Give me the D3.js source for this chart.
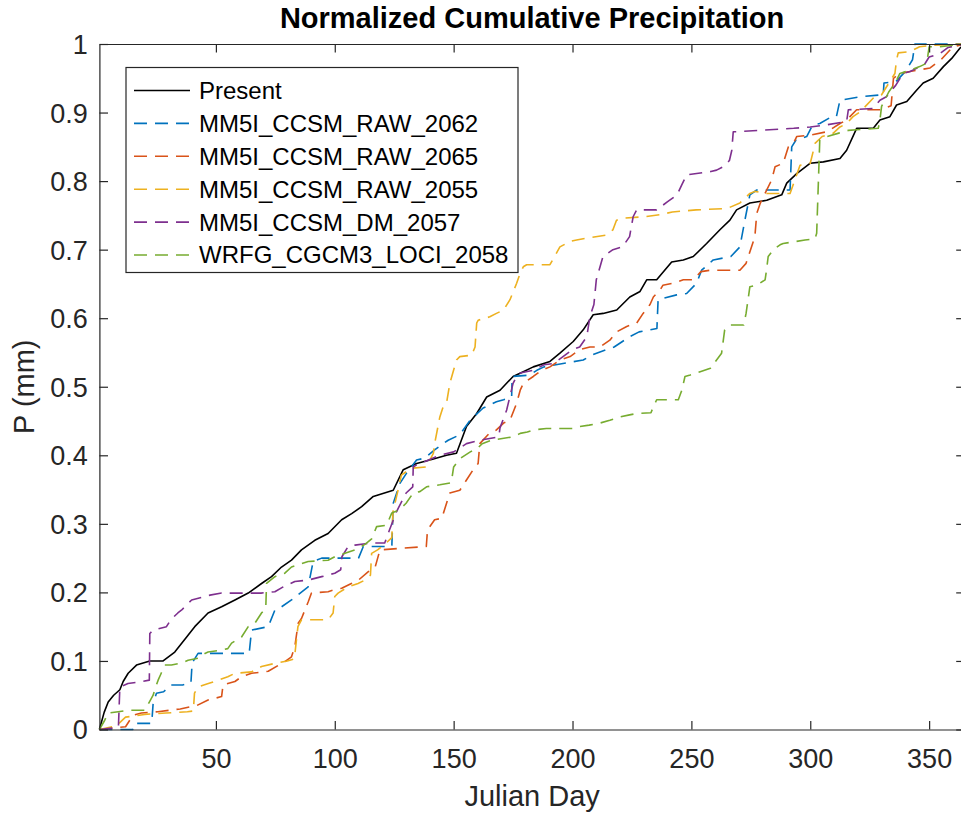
<!DOCTYPE html>
<html>
<head>
<meta charset="utf-8">
<script src="https://cdn.jsdelivr.net/npm/d3@7"></script>
<style>
  body { margin: 0; background: #fff; }
  svg { display: block; font-family: "Liberation Sans", Arial, Helvetica, sans-serif; }
</style>
</head>
<body>
<div id="my_chart"></div>
<script>
// [day, normalized cumulative precipitation]
var present = [[1,0],[3,0.025],[4.7,0.04],[7,0.05],[9.6,0.058],[11,0.07],[13.1,0.082],[16.6,0.094],[22.2,0.1],[27.8,0.1],[32.7,0.113],[37.7,0.135],[41.1,0.15],[46.7,0.17],[52.4,0.179],[58,0.189],[63.6,0.199],[69.2,0.213],[73.4,0.223],[77.6,0.237],[81.8,0.247],[86,0.262],[91.6,0.276],[97.2,0.286],[102.9,0.306],[107.1,0.315],[111.3,0.325],[116.2,0.34],[124.6,0.349],[128.8,0.379],[134.4,0.388],[140,0.393],[147,0.4],[151.2,0.403],[155.4,0.442],[159.7,0.461],[163.9,0.485],[169.5,0.495],[175,0.515],[179.3,0.522],[183.5,0.529],[190.5,0.537],[194.7,0.549],[200.3,0.566],[204.5,0.583],[208.7,0.605],[212.9,0.607],[218.6,0.612],[224.1,0.631],[228.4,0.639],[231.2,0.656],[235.4,0.656],[241.7,0.682],[246.6,0.685],[250.8,0.69],[256.4,0.709],[262,0.729],[266.2,0.743],[269,0.758],[274.6,0.768],[281.7,0.772],[288,0.78],[290.1,0.797],[294.3,0.811],[299.9,0.826],[305.5,0.828],[312.5,0.833],[315.3,0.845],[319.5,0.877],[326.5,0.877],[329.3,0.889],[333.5,0.894],[336.3,0.911],[340.6,0.916],[344.8,0.933],[347.5,0.943],[351.7,0.95],[356,0.967],[359.5,0.979],[363,0.994],[365,1]];

var raw2062 = [[1,0],[15,0],[16,0.009],[23,0.009],[23.6,0.038],[25,0.053],[28,0.055],[31,0.065],[36,0.065],[39.5,0.068],[40,0.097],[42.5,0.111],[64,0.111],[65,0.145],[72,0.15],[74.8,0.174],[77.6,0.179],[81.8,0.189],[88.8,0.208],[90.9,0.245],[94.5,0.25],[110,0.25],[112,0.267],[124,0.267],[124.6,0.33],[127.4,0.359],[130.2,0.374],[134.4,0.393],[137.9,0.396],[142,0.408],[145.6,0.417],[147.7,0.422],[152.6,0.43],[156.9,0.451],[162.4,0.469],[168,0.478],[171,0.481],[174.4,0.485],[174.6,0.515],[182,0.517],[185,0.524],[188,0.529],[196,0.534],[204.5,0.539],[208,0.546],[214,0.554],[217.5,0.558],[221,0.566],[224,0.573],[228,0.58],[235.5,0.585],[236,0.627],[243.8,0.634],[248,0.636],[252.2,0.651],[254.3,0.67],[259.2,0.685],[266.6,0.69],[270.4,0.704],[272.5,0.743],[274.6,0.78],[277.5,0.787],[291.5,0.787],[292.2,0.85],[294,0.86],[298.5,0.865],[301,0.882],[304,0.884],[308,0.892],[311,0.894],[312.5,0.918],[320.9,0.923],[330.7,0.926],[331,0.943],[336,0.945],[340,0.96],[343,0.977],[344,1],[365,1]];

var raw2065 = [[1,0],[12,0.004],[15.2,0.021],[18.7,0.024],[25.6,0.026],[35,0.03],[42,0.035],[46.7,0.043],[52.4,0.048],[53,0.065],[58,0.07],[60.8,0.077],[65,0.082],[72,0.085],[79,0.099],[81.8,0.106],[83.2,0.121],[84.6,0.155],[86,0.162],[88.8,0.186],[90.2,0.199],[97.2,0.201],[100,0.204],[102.9,0.206],[107,0.213],[110,0.218],[114,0.23],[117,0.237],[119,0.262],[138.5,0.267],[139,0.291],[142,0.306],[145,0.308],[148.4,0.345],[152.6,0.349],[155.4,0.364],[158.2,0.379],[160.3,0.388],[161,0.417],[165,0.432],[168,0.437],[171,0.447],[173.7,0.451],[176.5,0.476],[178,0.495],[179.3,0.505],[183.5,0.515],[187,0.524],[190.5,0.529],[194.7,0.539],[199,0.544],[203,0.554],[207.3,0.558],[211.5,0.558],[215.7,0.568],[218.5,0.58],[222.8,0.588],[227,0.593],[229.7,0.607],[232.6,0.62],[234,0.631],[236.8,0.641],[238,0.648],[242.4,0.651],[246.6,0.656],[250.8,0.656],[254,0.668],[258,0.67],[270.4,0.67],[273,0.68],[276.7,0.719],[277.5,0.753],[279,0.768],[283.8,0.802],[285.2,0.821],[288.6,0.826],[290.8,0.85],[292.9,0.855],[294.3,0.865],[300,0.867],[307,0.872],[312.5,0.884],[315.3,0.889],[319.5,0.904],[329.3,0.904],[334,0.91],[335,0.95],[337.7,0.957],[342,0.96],[350.4,0.965],[353,0.972],[355,0.977],[360,0.996],[365,1]];

var raw2055 = [[1,0],[8,0.005],[12,0.018],[20,0.022],[29,0.024],[38,0.026],[40.5,0.027],[41,0.053],[42.5,0.062],[46.8,0.067],[51,0.072],[55,0.077],[58,0.082],[65,0.084],[69.2,0.092],[75.5,0.097],[80,0.1],[83,0.103],[84.5,0.15],[86,0.16],[97.2,0.16],[99.3,0.17],[100,0.194],[101.4,0.199],[105.6,0.208],[109.8,0.213],[112.7,0.218],[115,0.225],[115.5,0.257],[118,0.262],[121,0.27],[124,0.28],[124.5,0.318],[126.6,0.349],[128,0.371],[130,0.376],[131.6,0.381],[138.6,0.383],[140,0.393],[141.5,0.403],[142,0.417],[144.2,0.456],[145.6,0.471],[147,0.476],[148.4,0.505],[151.2,0.539],[152.6,0.544],[157.6,0.546],[159,0.558],[159.7,0.593],[160.3,0.597],[165.2,0.602],[168,0.607],[171,0.612],[173.7,0.627],[176.5,0.651],[178,0.666],[179.3,0.675],[180.7,0.678],[190.5,0.678],[194.7,0.704],[199,0.712],[201.7,0.714],[206,0.717],[214,0.721],[217,0.729],[218.5,0.743],[222,0.746],[230,0.748],[237,0.751],[242,0.755],[252,0.758],[265,0.76],[270.4,0.768],[274.6,0.782],[276.7,0.785],[281.6,0.782],[291.5,0.782],[295.7,0.823],[300,0.826],[301,0.84],[302,0.855],[305,0.865],[309.7,0.87],[312.5,0.879],[315.3,0.884],[318,0.894],[321,0.901],[327,0.923],[330,0.926],[335.6,0.957],[336.3,0.977],[337,0.987],[342,0.989],[346,0.996],[351,0.998],[365,1]];

var dm2057 = [[1,0],[9,0.003],[9.6,0.062],[13,0.067],[18.7,0.07],[22,0.072],[22.2,0.14],[23.6,0.145],[29.2,0.15],[31,0.16],[34,0.17],[35.5,0.174],[39.8,0.189],[45.4,0.194],[47.5,0.196],[52.4,0.199],[69,0.199],[74.8,0.201],[78.3,0.208],[83.2,0.216],[88.8,0.218],[94.5,0.223],[100,0.228],[102.5,0.233],[103,0.252],[105.6,0.267],[108.5,0.269],[115.5,0.272],[121,0.272],[123,0.291],[126,0.318],[130,0.345],[132.8,0.354],[133,0.383],[134.4,0.386],[138,0.391],[144,0.4],[150,0.405],[155.4,0.417],[161,0.422],[169,0.427],[169.5,0.44],[172.3,0.466],[175,0.505],[176.5,0.515],[178,0.52],[183.5,0.524],[188,0.532],[192,0.534],[196,0.544],[198,0.549],[200,0.554],[203,0.558],[206,0.573],[207.3,0.602],[209,0.62],[210,0.656],[212.8,0.69],[217,0.7],[221,0.704],[224,0.719],[225.5,0.748],[227,0.758],[235.4,0.758],[240,0.77],[244,0.78],[245.9,0.794],[248,0.809],[258.2,0.814],[260.6,0.816],[263.4,0.821],[266,0.83],[267,0.845],[267.6,0.872],[269,0.872],[293,0.877],[300,0.879],[306.7,0.882],[315.3,0.887],[316,0.904],[326.5,0.906],[329.3,0.918],[332,0.923],[336,0.94],[339,0.957],[342,0.96],[348,0.97],[350,0.981],[354.5,0.986],[358,0.995],[365,1]];

var loci2058 = [[1,0],[3,0.012],[4.7,0.024],[8.9,0.026],[13,0.028],[20,0.028],[22,0.04],[23.6,0.05],[24.3,0.058],[25.7,0.072],[27,0.082],[28.5,0.094],[31.3,0.094],[35.5,0.097],[38.3,0.101],[42.5,0.104],[45.4,0.111],[46.7,0.113],[52.4,0.116],[55,0.118],[56.6,0.126],[60.8,0.135],[63.6,0.15],[66.4,0.155],[69.2,0.17],[70.6,0.174],[71,0.179],[71.3,0.213],[74.8,0.223],[79,0.228],[81.8,0.237],[88.8,0.245],[97.2,0.247],[100,0.252],[104.3,0.257],[108.5,0.262],[112.7,0.27],[115.5,0.278],[117.6,0.296],[121.8,0.298],[124,0.316],[127,0.32],[130,0.33],[133,0.345],[135.8,0.347],[138.6,0.354],[144.2,0.357],[149,0.36],[150,0.383],[152.6,0.395],[157,0.405],[160,0.41],[162,0.417],[166,0.422],[175,0.427],[178,0.432],[181,0.434],[183.5,0.437],[189,0.439],[200,0.439],[203,0.442],[207,0.444],[211.5,0.447],[215.7,0.451],[220,0.456],[224,0.459],[227,0.461],[233,0.462],[234,0.471],[235.4,0.481],[244.5,0.481],[246,0.495],[247.3,0.515],[249.5,0.517],[253.7,0.522],[258,0.527],[262.7,0.549],[264,0.583],[266,0.59],[272,0.59],[273,0.607],[274.6,0.646],[277.5,0.648],[281,0.656],[281.6,0.67],[282.3,0.69],[284.5,0.7],[287.3,0.707],[288.6,0.709],[297.8,0.714],[302,0.716],[302.7,0.724],[304,0.86],[305,0.862],[307,0.865],[312,0.87],[316,0.874],[319.5,0.875],[328.6,0.877],[329.3,0.889],[330,0.909],[333,0.93],[336,0.945],[337.7,0.957],[342,0.962],[346,0.967],[349,0.972],[350,0.996],[354.5,0.996],[365,1]];

var seriesNames = ["Present", "MM5I_CCSM_RAW_2062", "MM5I_CCSM_RAW_2065", "MM5I_CCSM_RAW_2055", "MM5I_CCSM_DM_2057", "WRFG_CGCM3_LOCI_2058"];
var seriesData = [present, raw2062, raw2065, raw2055, dm2057, loci2058];
var colors = ["#000000", "#0072BD", "#D95319", "#EDB120", "#7E2F8E", "#77AC30"];

var xTicks = [50, 100, 150, 200, 250, 300, 350];
var yTicks = [0, 0.1, 0.2, 0.3, 0.4, 0.5, 0.6, 0.7, 0.8, 0.9, 1];

var width = 961, height = 815;
var plotLeft = 99.4, plotRight = 964.8, plotTop = 44, plotBottom = 729.5;
var axisColor = "#262626";
var tickLen = 8.6;
var dashes = "13,8";

var svg = d3.select("#my_chart")
    .append("svg")
    .attr("width", width)
    .attr("height", height);

var x = d3.scaleLinear().domain([1, 365]).range([plotLeft, plotRight]);
var y = d3.scaleLinear().domain([0, 1]).range([plotBottom, plotTop]);

// data lines
var line = d3.line()
    .x(function(d) { return x(d[0]); })
    .y(function(d) { return y(d[1]); });

svg.selectAll(".series")
    .data(seriesData)
    .enter()
    .append("path")
    .attr("class", "series")
    .attr("d", line)
    .attr("fill", "none")
    .attr("stroke", function(d, i) { return colors[i]; })
    .attr("stroke-width", 1.6)
    .attr("stroke-linejoin", "round")
    .attr("stroke-dasharray", function(d, i) { return i == 0 ? null : dashes; });

// axes (ticks point inward on all four sides)
function styleAxis(g) {
    g.select(".domain").attr("stroke", axisColor).attr("stroke-width", 1.2);
    g.selectAll(".tick line").attr("stroke", axisColor).attr("stroke-width", 1.2);
    g.selectAll("text")
        .attr("fill", axisColor)
        .style("font-size", "27px")
        .style("font-family", "'Liberation Sans', Arial, sans-serif");
}

svg.append("g")
    .attr("transform", "translate(0," + plotBottom + ")")
    .call(d3.axisBottom(x).tickValues(xTicks).tickSize(-tickLen).tickSizeOuter(0))
    .call(styleAxis)
    .selectAll("text")
    .attr("y", 38.5)
    .attr("dy", 0);

svg.append("g")
    .attr("transform", "translate(0," + plotTop + ")")
    .call(d3.axisTop(x).tickValues(xTicks).tickSize(-tickLen).tickSizeOuter(0).tickFormat(""))
    .call(styleAxis);

svg.append("g")
    .attr("transform", "translate(" + plotLeft + ",0)")
    .call(d3.axisLeft(y).tickValues(yTicks).tickSize(-tickLen).tickSizeOuter(0).tickFormat(d3.format("~g")))
    .call(styleAxis)
    .selectAll("text")
    .attr("x", -11.5)
    .attr("dy", "0.35em");

svg.append("g")
    .attr("transform", "translate(" + plotRight + ",0)")
    .call(d3.axisRight(y).tickValues(yTicks).tickSize(-tickLen).tickSizeOuter(0).tickFormat(""))
    .call(styleAxis);

// title and labels
svg.append("text")
    .attr("x", (plotLeft + plotRight) / 2)
    .attr("y", 28)
    .attr("text-anchor", "middle")
    .style("font-size", "29px")
    .style("font-weight", "bold")
    .attr("fill", "#000")
    .text("Normalized Cumulative Precipitation");

svg.append("text")
    .attr("x", (plotLeft + plotRight) / 2)
    .attr("y", 806)
    .attr("text-anchor", "middle")
    .style("font-size", "29px")
    .attr("fill", axisColor)
    .text("Julian Day");

svg.append("text")
    .attr("transform", "translate(34," + (plotTop + plotBottom) / 2 + ")rotate(-90)")
    .attr("text-anchor", "middle")
    .style("font-size", "29px")
    .attr("fill", axisColor)
    .text("P (mm)");

// legend
var legend = svg.append("g");
legend.append("rect")
    .attr("x", 126)
    .attr("y", 67.5)
    .attr("width", 392)
    .attr("height", 205)
    .attr("fill", "#fff")
    .attr("stroke", axisColor)
    .attr("stroke-width", 1.2);

var rows = legend.selectAll(".row")
    .data(seriesNames)
    .enter()
    .append("g")
    .attr("class", "row")
    .attr("transform", function(d, i) { return "translate(0," + (90.5 + i * 32.9) + ")"; });

rows.append("line")
    .attr("x1", 134)
    .attr("x2", 190)
    .attr("stroke", function(d, i) { return colors[i]; })
    .attr("stroke-width", 1.6)
    .attr("stroke-dasharray", function(d, i) { return i == 0 ? null : dashes; });

rows.append("text")
    .attr("x", 199)
    .attr("dy", "0.35em")
    .style("font-size", "24px")
    .attr("fill", "#000")
    .text(function(d) { return d; });
</script>
</body>
</html>
